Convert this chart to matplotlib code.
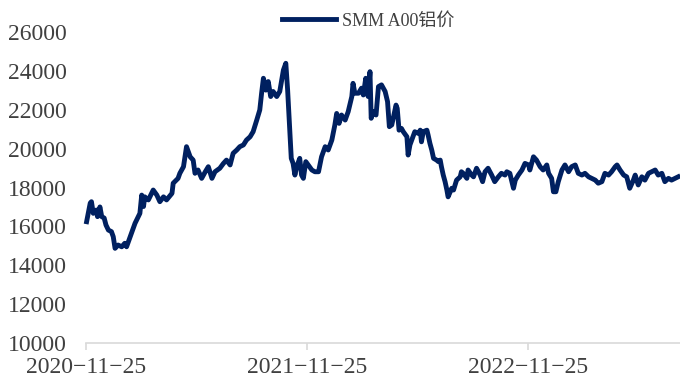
import numpy as np
import pandas as pd
import matplotlib
matplotlib.use('Agg')
import matplotlib.pyplot as plt
import matplotlib.dates as mdates

plt.rcParams['font.family'] = ['Liberation Serif', 'Noto Sans CJK SC']

start = pd.Timestamp('2020-11-25')

# days since 2020-11-25
days = [1, 7, 9, 12, 17, 19, 23, 26, 30, 33, 37, 42, 45, 48, 53, 59, 64, 67, 73, 81,
        89, 92, 95, 97, 103, 111, 117, 122, 128, 133, 142, 144, 152, 155, 161, 166, 172,
        177, 180, 185, 191, 197, 202, 208, 213, 221, 227, 232, 238, 243, 249, 254, 260,
        265, 271, 276, 282, 287, 290, 293, 297, 301, 305, 309, 315, 320, 326, 330, 333,
        336, 339, 342, 345, 348, 353, 356, 359, 363, 367, 373, 378, 384, 389, 395, 400,
        406, 411, 414, 418, 422, 428, 433, 439, 441, 444, 450, 455, 458, 462, 466, 469,
        471, 474, 479, 483, 488, 494, 498, 501, 505, 509, 512, 514, 517, 521, 524, 530,
        532, 535, 540, 543, 549, 552, 554, 557, 563, 565, 568, 571, 574, 579, 582, 585,
        587, 590, 593, 596, 598, 604, 607, 612, 618, 620, 623, 629, 631, 637, 640, 645,
        651, 655, 659, 664, 670, 675, 681, 686, 692, 695, 700, 706, 709, 714, 720, 725,
        731, 733, 739, 744, 750, 755, 761, 764, 769, 772, 776, 780, 786, 791, 797, 802,
        808, 813, 819, 824, 830, 835, 841, 846, 852, 857, 863, 868, 874, 877, 882, 888,
        893, 898, 904, 907, 912, 918, 923, 929, 934, 940, 945, 951, 956, 962, 967, 973,
        978]

price = [16240, 17200, 17270, 16670, 16840, 16500, 17000, 16500, 16430, 16070, 15810,
         15730, 15470, 14870, 15040, 14950, 15130, 14950, 15470, 16160,
         16670, 17610, 17020, 17520, 17360, 17870, 17610, 17270, 17520, 17360, 17700,
         18220, 18470, 18730, 19070, 20100, 19580,
         19410, 18730, 18900, 18470, 18810, 19070, 18470, 18810, 18990, 19240, 19410,
         19160, 19760, 19930, 20100, 20190, 20440, 20610, 20870, 21470, 21990, 22850,
         23620, 23010, 23450, 22680, 22940, 22680, 22940, 24040, 24390, 23010, 21300,
         19500,
         19240, 18640, 19070, 19500, 18640, 18470, 19330, 19160, 18900, 18810, 18810,
         19580, 20100, 19930, 20440, 21220, 21810, 21300, 21730, 21470, 21900, 22680,
         23360, 22850, 22850, 23110, 22760, 23620, 22680, 23960, 21560, 21900, 21730,
         23190, 23280, 22940, 22420, 21130, 21220, 21810, 22240, 22070, 20950,
         21040, 20870, 20610, 19670, 20190, 20610, 20870, 20780, 20950, 20350, 20870,
         20950, 20700, 20270, 19930, 19500, 19410, 19330, 19410, 19070, 18640, 18300,
         17870, 17520, 17960, 17870, 18380, 18550, 18810, 18730, 18470, 18900, 18640,
         18550, 18990, 18640, 18300, 18810, 18990, 18640, 18300, 18550, 18730, 18640,
         18810, 18730, 17960, 18380, 18640, 18900, 19240, 19160,
         18900, 19580, 19410, 19070, 18900, 19160, 18730, 18470, 17780, 17780, 18300,
         18900, 19160, 18810, 19070, 19160, 18730, 18640, 18730, 18550, 18470, 18380,
         18220, 18300, 18730, 18640, 18810, 19070, 19160, 18900, 18640, 18550, 17960,
         18380, 18640, 18130, 18550, 18380, 18730, 18810, 18900, 18640, 18730, 18300,
         18470, 18380, 18470, 18550]

dates = [start + pd.Timedelta(days=d) for d in days]

fig = plt.figure(figsize=(6.8, 3.79), dpi=100)
ax = fig.add_axes([86 / 680, 1 - 343 / 379, 1 - 86 / 680, (343 - 32) / 379])

ax.plot(dates, price, color='#002060', lw=3.5, solid_joinstyle='round',
        label='SMM A00铝价', clip_on=False)

ax.set_ylim(10000, 26000)
ax.set_yticks(np.arange(10000, 26001, 2000))
ax.set_xlim(start, start + pd.Timedelta(days=981))
ax.set_xticks([pd.Timestamp('2020-11-25'), pd.Timestamp('2021-11-25'),
               pd.Timestamp('2022-11-25')])
ax.xaxis.set_major_formatter(mdates.DateFormatter('%Y\u2212%m\u2212%d'))

for s in ['top', 'right', 'left']:
    ax.spines[s].set_visible(False)
ax.spines['bottom'].set_color('#d9d9d9')
ax.spines['bottom'].set_linewidth(1.2)
ax.tick_params(axis='y', length=0, pad=14, labelsize=17, labelcolor='#404040')
ax.tick_params(axis='x', length=5, width=1.2, color='#d9d9d9', pad=5,
               labelsize=17, labelcolor='#404040')

leg = ax.legend(loc='upper center', bbox_to_anchor=(0.475, 1.115), frameon=False,
                fontsize=13, handlelength=3.0, handletextpad=0.3)
for t in leg.get_texts():
    t.set_color('#404040')

fig.savefig('out.png', dpi=100)
